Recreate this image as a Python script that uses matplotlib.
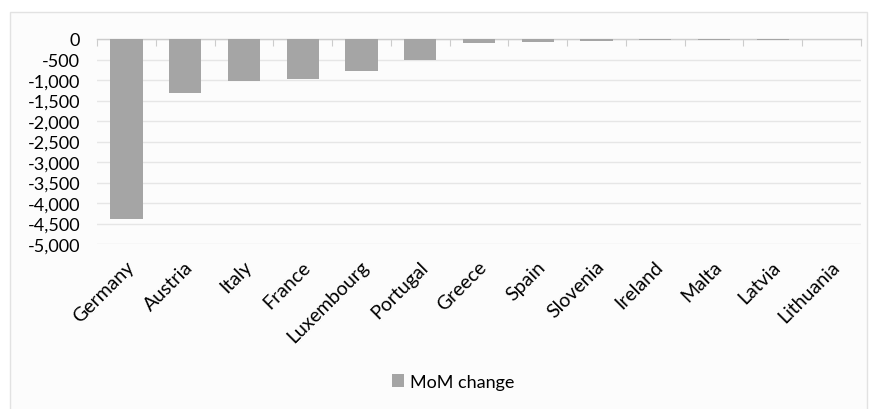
import matplotlib
matplotlib.use("Agg")
import matplotlib.pyplot as plt
from matplotlib.patches import Rectangle
from matplotlib.ticker import FuncFormatter

countries = ["Germany", "Austria", "Italy", "France", "Luxembourg", "Portugal",
             "Greece", "Spain", "Slovenia", "Ireland", "Malta", "Latvia", "Lithuania"]
mom_change = [-4380, -1320, -1030, -980, -780, -520, -90, -75, -55, -25, -20, -15, -5]
y_ticks = list(range(0, -5001, -500))

plt.rcParams['font.family'] = ['Lato', 'DejaVu Sans']

W, H = 875, 410
fig = plt.figure(figsize=(W / 100, H / 100), dpi=100)
fig.patch.set_facecolor('white')
# outer frame
fig.patches.append(Rectangle((10 / W, -0.05), (867 - 10) / W, (H - 13) / H + 0.05,
                             transform=fig.transFigure, facecolor='#fcfcfc',
                             edgecolor='#e2e2e2', linewidth=1.0, zorder=-10))

ax = fig.add_axes([97 / W, 1 - 245 / H, (861 - 97) / W, (245 - 40) / H])
ax.set_facecolor('none')
x = range(len(countries))
ax.bar(x, mom_change, width=0.55, color='#a5a5a5', label='MoM change', zorder=3)
ax.set_xlim(-0.5, len(countries) - 0.5)
ax.set_ylim(-5000, 0)
ax.set_yticks(y_ticks)
ax.yaxis.set_major_formatter(FuncFormatter(lambda v, p: f"{int(v):,}"))
ax.grid(axis='y', color='#e6e6e6', linewidth=1.0, zorder=0)
for s in ['left', 'right', 'bottom']:
    ax.spines[s].set_visible(False)
ax.spines['top'].set_color('#cccccc')
ax.spines['top'].set_linewidth(1.0)
ax.tick_params(axis='y', length=0, labelsize=13, pad=12, colors='#000000')
ax.xaxis.set_ticks_position('top')
ax.set_xticks([i - 0.5 for i in range(len(countries) + 1)], minor=False)
ax.set_xticklabels([])
ax.tick_params(axis='x', which='major', direction='in', length=5, color='#cccccc',
               top=True, bottom=False, labeltop=False, labelbottom=False)
# category labels below
for i, c in enumerate(countries):
    ax.text(i - 0.02, -5330, c, rotation=45, ha='right', va='top', fontsize=14,
            rotation_mode='anchor', transform=ax.transData)

fig.legend(loc='center', bbox_to_anchor=(453 / W, 1 - 383 / H), frameon=False,
           fontsize=13, handlelength=0.7, handleheight=0.7, handletextpad=0.3)
fig.savefig('out.png', dpi=100, facecolor='white')
